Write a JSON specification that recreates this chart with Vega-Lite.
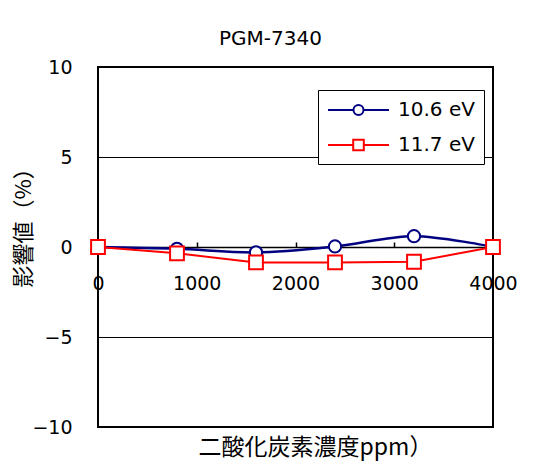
{
  "$schema": "https://vega.github.io/schema/vega-lite/v6.json",
  "width": 395,
  "height": 360,
  "autosize": {"type": "none"},
  "padding": {"left": 98, "top": 67, "right": 42, "bottom": 42},
  "background": "white",
  "config": {
    "view": {"stroke": "black", "strokeWidth": 2},
    "legend": {"orient": "none"}
  },
  "title": {"text": "PGM-7340", "font": "DejaVu Sans", "fontSize": 20, "fontWeight": "normal", "color": "black", "anchor": "middle", "dx": -25, "dy": 29, "offset": 22, "baseline": "alphabetic"},
  "data": {"values": [
    {"x": 0, "y": 0, "s": "10.6 eV"},
    {"x": 800, "y": -0.1, "s": "10.6 eV"},
    {"x": 1600, "y": -0.3, "s": "10.6 eV"},
    {"x": 2400, "y": 0.03, "s": "10.6 eV"},
    {"x": 3200, "y": 0.6, "s": "10.6 eV"},
    {"x": 4000, "y": 0, "s": "10.6 eV"},
    {"x": 0, "y": 0, "s": "11.7 eV"},
    {"x": 800, "y": -0.35, "s": "11.7 eV"},
    {"x": 1600, "y": -0.86, "s": "11.7 eV"},
    {"x": 2400, "y": -0.86, "s": "11.7 eV"},
    {"x": 3200, "y": -0.82, "s": "11.7 eV"},
    {"x": 4000, "y": 0, "s": "11.7 eV"}
  ]},
  "encoding": {
    "x": {"field": "x", "type": "quantitative", "scale": {"domain": [0, 4000], "nice": false},
      "axis": {"values": [0, 1000, 2000, 3000, 4000], "format": "d", "offset": -180, "tickSize": -5, "tickColor": "black", "tickWidth": 1.5,
        "domainColor": "black", "domainWidth": 1.5, "labelPadding": 32, "labelFontSize": 19, "labelFont": "DejaVu Sans",
        "labelColor": "black", "labelFlush": false, "grid": false, "title": "二酸化炭素濃度ppm）", "titleFont": "Noto Sans CJK JP",
        "titleFontSize": 23, "titleFontWeight": "normal", "titleColor": "black", "titleX": 217, "titleY": 200,
        "titleBaseline": "middle", "titleAlign": "center"}},
    "y": {"field": "y", "type": "quantitative", "scale": {"domain": [-10, 10], "nice": false},
      "axis": {"values": [-10, -5, 0, 5, 10], "grid": true, "gridColor": "black", "gridWidth": 1, "gridOpacity": 1,
        "domain": false, "ticks": false, "labelPadding": 26, "labelFontSize": 19, "labelFont": "DejaVu Sans", "labelColor": "black",
        "labelFlush": false, "title": "影響値（%）", "titleFont": "Noto Sans CJK JP", "titleFontSize": 22, "titleFontWeight": "normal",
        "titleColor": "black", "titleX": -75, "titleY": 155, "titleAngle": -90, "titleAlign": "center", "titleBaseline": "middle"}},
    "color": {"field": "s", "type": "nominal", "scale": {"domain": ["10.6 eV", "11.7 eV"], "range": ["#000080", "#FF0000"]},
      "legend": {"title": null, "orient": "none", "legendX": 220, "legendY": 23, "strokeColor": "black", "fillColor": "white",
        "padding": 9, "labelFontSize": 20, "labelFont": "DejaVu Sans", "labelColor": "black", "labelOffset": 49,
        "symbolSize": 400, "symbolStrokeWidth": 2, "rowPadding": 14, "cornerRadius": 0,
        "encode": {"symbols": {"update": {
          "shape": {"signal": "datum.value === '10.6 eV' ? 'M-1,0L1.55,0M2.55,0L5.1,0M1.55,0A0.5,0.5,0,1,0,2.55,0A0.5,0.5,0,1,0,1.55,0Z' : 'M-1,0L1.52,0M2.58,0L5.1,0M1.52,-0.53L2.58,-0.53L2.58,0.53L1.52,0.53Z'"},
          "fill": {"value": "white"}, "fillOpacity": {"value": 1}, "strokeWidth": {"value": 2}, "opacity": {"value": 1}}}}}}
  },
  "layer": [
    {"transform": [{"filter": "datum.s === '10.6 eV'"}], "mark": {"type": "line", "interpolate": "catmull-rom", "strokeWidth": 2.5}},
    {"transform": [{"filter": "datum.s === '10.6 eV'"}], "mark": {"type": "point", "shape": "circle", "filled": false, "fill": "white", "fillOpacity": 1, "opacity": 1, "strokeWidth": 2, "size": 150}},
    {"transform": [{"filter": "datum.s === '11.7 eV'"}], "mark": {"type": "line", "strokeWidth": 2}},
    {"transform": [{"filter": "datum.s === '11.7 eV'"}], "mark": {"type": "point", "shape": "square", "filled": false, "fill": "white", "fillOpacity": 1, "opacity": 1, "strokeWidth": 2, "size": 190}}
  ]
}
